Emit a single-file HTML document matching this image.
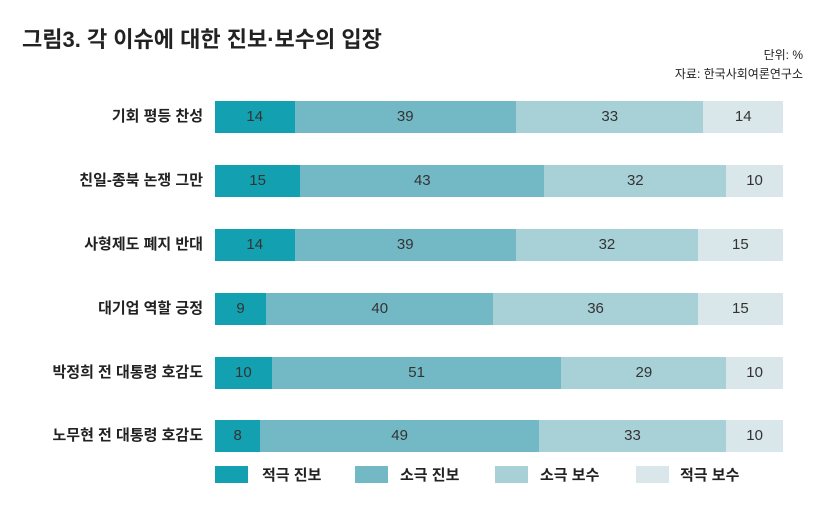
<!DOCTYPE html>
<html><head><meta charset="utf-8"><style>
body{margin:0;width:831px;height:512px;background:#fff;position:relative;font-family:"Liberation Sans","Noto Sans CJK KR",sans-serif;color:#222;overflow:hidden}
.t{position:absolute;white-space:nowrap}
.lab{position:absolute;right:628px;font-size:15px;font-weight:bold;line-height:32px}
.bar{position:absolute;left:215px;width:568px;height:32px;display:flex}
.bar div{height:32px;line-height:32px;text-align:center;font-size:15px;color:#333}
.a{background:#13a0b0}.b{background:#73b9c5}.c{background:#a8d0d7}.d{background:#d9e7ea}
.sw{position:absolute;top:466px;width:33px;height:17px}
.lg{position:absolute;top:464px;font-size:15px;font-weight:bold}
</style></head><body>
<div class="t" style="left:22px;top:22px;font-size:22px;font-weight:bold">그림3. 각 이슈에 대한 진보·보수의 입장</div>
<div class="t" style="right:28px;top:46px;font-size:12px">단위: %</div>
<div class="t" style="right:28px;top:65px;font-size:12px">자료: 한국사회여론연구소</div>

<div class="lab" style="top:101px">기회 평등 찬성</div>
<div class="bar" style="top:101px"><div class="a" style="width:14%">14</div><div class="b" style="width:39%">39</div><div class="c" style="width:33%">33</div><div class="d" style="width:14%">14</div></div>
<div class="lab" style="top:165px">친일-종북 논쟁 그만</div>
<div class="bar" style="top:165px"><div class="a" style="width:15%">15</div><div class="b" style="width:43%">43</div><div class="c" style="width:32%">32</div><div class="d" style="width:10%">10</div></div>
<div class="lab" style="top:229px">사형제도 폐지 반대</div>
<div class="bar" style="top:229px"><div class="a" style="width:14%">14</div><div class="b" style="width:39%">39</div><div class="c" style="width:32%">32</div><div class="d" style="width:15%">15</div></div>
<div class="lab" style="top:293px">대기업 역할 긍정</div>
<div class="bar" style="top:293px"><div class="a" style="width:9%">9</div><div class="b" style="width:40%">40</div><div class="c" style="width:36%">36</div><div class="d" style="width:15%">15</div></div>
<div class="lab" style="top:357px">박정희 전 대통령 호감도</div>
<div class="bar" style="top:357px"><div class="a" style="width:10%">10</div><div class="b" style="width:51%">51</div><div class="c" style="width:29%">29</div><div class="d" style="width:10%">10</div></div>
<div class="lab" style="top:420px">노무현 전 대통령 호감도</div>
<div class="bar" style="top:420px"><div class="a" style="width:8%">8</div><div class="b" style="width:49%">49</div><div class="c" style="width:33%">33</div><div class="d" style="width:10%">10</div></div>

<div class="sw a" style="left:215px"></div><div class="lg" style="left:262px">적극 진보</div>
<div class="sw b" style="left:355px"></div><div class="lg" style="left:400px">소극 진보</div>
<div class="sw c" style="left:495px"></div><div class="lg" style="left:540px">소극 보수</div>
<div class="sw d" style="left:636px"></div><div class="lg" style="left:680px">적극 보수</div>
</body></html>
